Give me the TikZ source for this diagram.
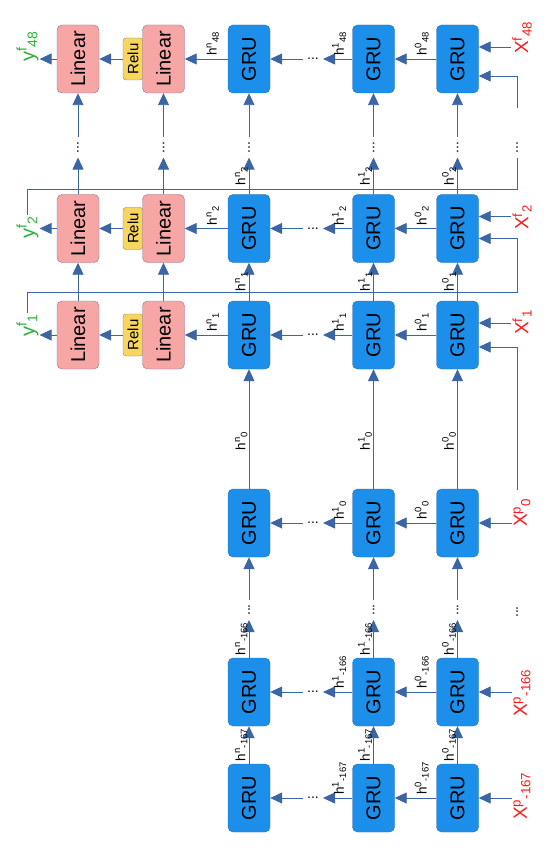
\documentclass[tikz,border=0pt]{standalone}
\usepackage{fontspec}
\setmainfont{Liberation Sans}
\usepackage{xcolor}
\definecolor{gruFill}{HTML}{1C8FEB}
\definecolor{gruLine}{HTML}{2B6CB0}
\definecolor{linFill}{HTML}{F7A6A6}
\definecolor{linLine}{HTML}{8C7399}
\definecolor{reluFill}{HTML}{F8D55E}
\definecolor{reluLine}{HTML}{8C8160}
\definecolor{flowLine}{HTML}{3B65A3}
\definecolor{inRed}{HTML}{FF1A1A}
\definecolor{outGreen}{HTML}{2FAE3C}
\usepackage{tikz}
\usetikzlibrary{%
    arrows.meta,
    positioning,
    calc
}
\newcommand{\rot}[1]{\rotatebox{90}{#1}}

\begin{document}
\begin{tikzpicture}[x=1pt, y=-1pt,
                gru/.style={rectangle, rounded corners=5pt, minimum width=42pt, minimum height=68pt, inner sep=0pt, fill=gruFill, draw=gruLine, font=\fontsize{20}{20}\selectfont},
                lin/.style={gru, fill=linFill, draw=linLine},
                relu/.style={rectangle, rounded corners=3pt, minimum width=20pt, minimum height=42pt, inner sep=0pt, fill=reluFill, draw=reluLine, font=\fontsize{15}{15}\selectfont},
                dots/.style={inner sep=4pt, font=\fontsize{14}{14}\selectfont},
                hlab/.style={inner sep=1pt, font=\fontsize{13.5}{13.5}\selectfont},
                xlab/.style={inner sep=1pt, anchor=south, text=inRed, font=\fontsize{19}{19}\selectfont},
                ylab/.style={inner sep=1pt, anchor=south, text=outGreen, font=\fontsize{20}{20}\selectfont},
                flow/.style={draw=flowLine, line width=0.9pt, -{Triangle[length=12pt, width=11pt]}},
                wire/.style={draw=flowLine, line width=0.9pt}
            ]
            \useasboundingbox (0,0) rectangle (548,850);

            % decoder steps
            \foreach \s/\y/\xb/\yb/\fb in {48/59/55/63/17, 2/228.5/231/240/10, 1/335/336/338/12} {
                \node (gz\s) at (457.5,\y) [gru] {\rot{GRU}};
                \node (go\s) at (373.5,\y) [gru] {\rot{GRU}};
                \node (dh\s) at (313,\y) [dots] {...};
                \node (gn\s) at (249,\y) [gru] {\rot{GRU}};
                \node (relu\s) at (133,\y) [relu] {\rot{Relu}};
                \node (lb\s) at (163.5,\y) [lin] {\rot{Linear}};
                \node (la\s) at (78,\y) [lin] {\rot{Linear}};
                \node (xf\s) at (522,\xb) [xlab] {\rot{X\textsuperscript{f}\textsubscript{\s}}};
                \node (yf\s) at (27.5,\yb) [ylab] {\rot{y\textsuperscript{f}\textsubscript{\s}}};
                \coordinate (xin\s) at ($(gz\s.east)+(0,-12)$);
                \coordinate (fin\s) at ($(gz\s.east)+(0,\fb)$);

                \draw [flow] (xin\s -| xf\s.west) -- (xin\s);
                \draw [flow] (gz\s) -- (go\s) node [pos=0.35, above=2pt, hlab] {\rot{h\textsuperscript{0}\textsubscript{\s}}};
                \draw [flow] (go\s) -- (dh\s) node [pos=0.45, above=2pt, hlab] {\rot{h\textsuperscript{1}\textsubscript{\s}}};
                \draw [flow] (dh\s) -- (gn\s);
                \draw [flow] (gn\s) -- (lb\s) node [pos=0.35, above=2pt, hlab] {\rot{h\textsuperscript{n}\textsubscript{\s}}};
                \draw [flow] (relu\s) -- (la\s);
                \draw [flow] (la\s.west) -- (la\s.west -| yf\s.east);
            }

            % encoder steps
            \foreach \s/\y/\xb/\t in {0/523/528/0, m166/692/718/-166, m167/798/821/-167} {
                \node (gz\s) at (457.5,\y) [gru] {\rot{GRU}};
                \node (go\s) at (373.5,\y) [gru] {\rot{GRU}};
                \node (dh\s) at (313,\y) [dots] {...};
                \node (gn\s) at (249,\y) [gru] {\rot{GRU}};
                \node (xp\s) at (522,\xb) [xlab] {\rot{X\textsuperscript{p}\textsubscript{\t}}};

                \draw [flow] (gz\s.east -| xp\s.west) -- (gz\s);
                \draw [flow] (gz\s) -- (go\s) node [pos=0.35, above=2pt, hlab] {\rot{h\textsuperscript{0}\textsubscript{\t}}};
                \draw [flow] (go\s) -- (dh\s) node [pos=0.45, above=2pt, hlab] {\rot{h\textsuperscript{1}\textsubscript{\t}}};
                \draw [flow] (dh\s) -- (gn\s);
            }

            % dots between steps
            \foreach \c/\x in {z/457.5, o/373.5, n/249, a/78, b/163.5} {
                \node (dv\c) at (\x,147.5) [dots] {\rot{...}};
            }
            \foreach \c/\x in {z/457.5, o/373.5, n/249} {
                \node (dp\c) at (\x,610) [dots] {\rot{...}};
            }
            \node (dpx) at (517,612) [dots] {\rot{...}};

            % hidden states upwards
            \foreach \c/\k in {z/0, o/1, n/n} {
                \draw [flow] (g\c m167) -- (g\c m166) node [midway, left=0pt, hlab] {\rot{h\textsuperscript{\k}\textsubscript{-167}}};
                \draw [flow] (g\c m166) -- (dp\c) node [midway, left=0pt, hlab] {\rot{h\textsuperscript{\k}\textsubscript{-166}}};
                \draw [flow] (dp\c) -- (g\c0);
                \draw [flow] (g\c0) -- (g\c1) node [pos=0.4, left=0pt, hlab] {\rot{h\textsuperscript{\k}\textsubscript{0}}};
                \draw [flow] (g\c1) -- (g\c2) node [midway, left=0pt, hlab] {\rot{h\textsuperscript{\k}\textsubscript{1}}};
                \draw [flow] (g\c2) -- (dv\c) node [midway, left=0pt, hlab] {\rot{h\textsuperscript{\k}\textsubscript{2}}};
                \draw [flow] (dv\c) -- (g\c48);
            }
            \foreach \c in {a, b} {
                \draw [flow] (l\c1) -- (l\c2);
                \draw [flow] (l\c2) -- (dv\c);
                \draw [flow] (dv\c) -- (l\c48);
            }

            % outputs fed back as inputs
            \coordinate (fb0) at (517,490);
            \coordinate (fb1) at (517,292);
            \coordinate (fb2) at (517,189);
            \coordinate (fbtop) at (517,108);
            \node (dvx) at (517,147.5) [dots] {\rot{...}};
            \draw [flow] (fb0) |- (fin1);
            \draw [flow] (yf1.north) |- (fb1) |- (fin2);
            \draw [wire] (yf2.north) |- (fb2) -- (dvx);
            \draw [flow] (fbtop) |- (fin48);
        \end{tikzpicture}
\end{document}
